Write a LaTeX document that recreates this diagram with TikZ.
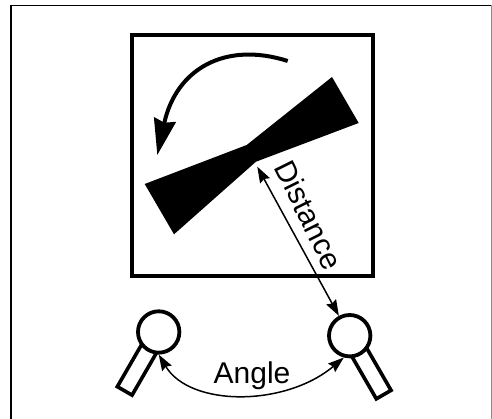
\documentclass[tikz,border=0pt]{standalone}
\usepackage{fontspec}
\setmainfont{Liberation Sans}
\usetikzlibrary{arrows.meta}
\tikzset{
  mic/.style={draw, circle, line width=3.8pt, minimum size=41.4pt, inner sep=0pt},
  micstick/.style={draw, line width=3.6pt, miter limit=10},
  thinarrow/.style={line width=1.5pt, {Stealth[length=16pt,width=11pt,inset=2pt]}-{Stealth[length=16pt,width=11pt,inset=2pt]}},
  label/.style={font=\fontsize{30pt}{32pt}\selectfont, inner sep=0pt}
}
\begin{document}
\begin{tikzpicture}[x=1pt,y=1pt]
\useasboundingbox (0,0) rectangle (492,419);
\draw[line width=1.5pt] (11,0) -- (11,413.5) -- (490.5,413.5);
\draw[line width=1pt, black!45] (491,413.5) -- (491,0);
\draw[line width=4pt] (131.5,143) rectangle (372.7,383.5);
\fill (332,342) -- (246.7,274) -- (144.7,235) -- (174,184.7) -- (256,257.3) -- (358.7,296) -- cycle;
\draw[line width=4pt, -{Stealth[length=36pt,width=22pt,inset=3pt]}] (287.7,358) .. controls (225,378) and (176,350) .. (157.3,264);
\node[mic] (micleft) at (158.7,87) {};
\node[mic] (micright) at (349.7,83.3) {};
\draw[micstick, shift={(micleft.center)}, rotate=-30] (-8.5,-19) -- (-8.5,-68) -- (8.5,-68) -- (8.5,-19);
\draw[micstick, shift={(micright.center)}, rotate=30] (-8.5,-19) -- (-8.5,-68) -- (8.5,-68) -- (8.5,-19);
\coordinate (neck) at (257.3,252.3);
\draw[thinarrow] (neck) -- (micright);
\draw[thinarrow] (micleft.south) .. controls (190,12) and (285,12) .. (micright.-105);
\node[label, rotate=-63.5] (distance) at (309,204) {Distance};
\node[label, anchor=base] (angle) at (252,35) {Angle};
\end{tikzpicture}
\end{document}
